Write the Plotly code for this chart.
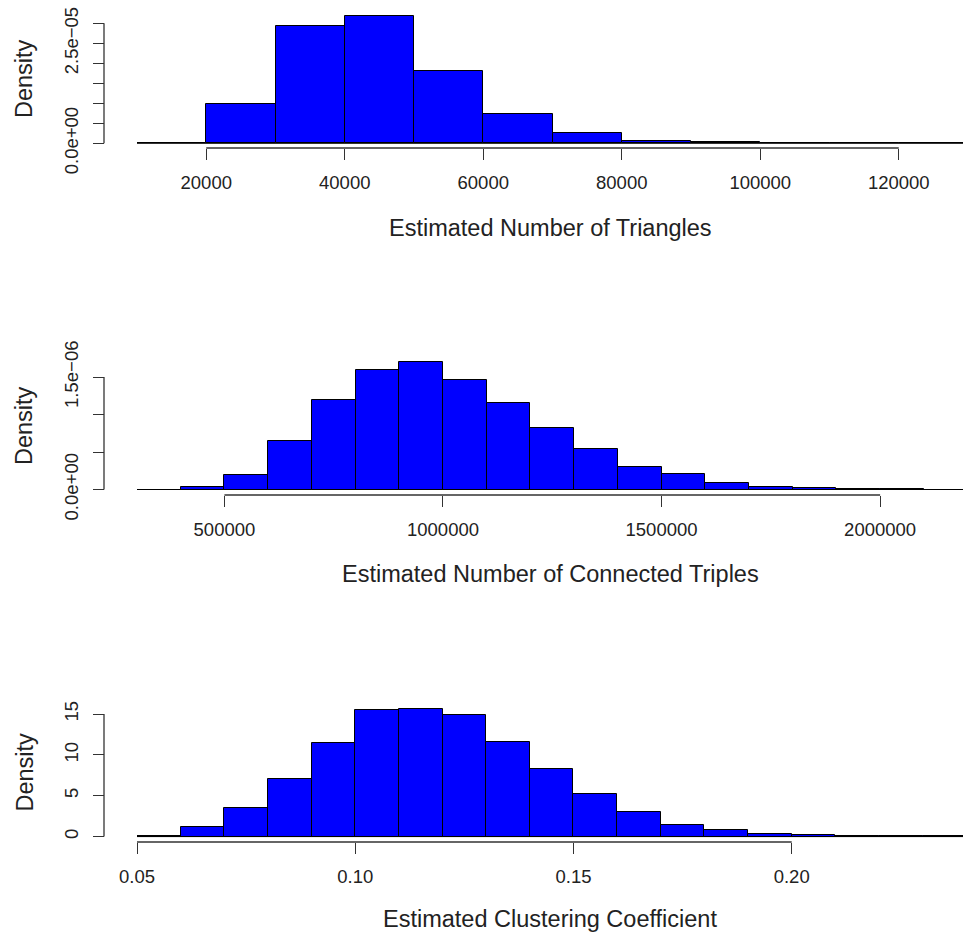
import plotly.graph_objects as go

W, H = 963, 933

# ---------------- data ----------------
tri_breaks = [10000, 20000, 30000, 40000, 50000, 60000, 70000, 80000,
              90000, 100000, 110000, 120000, 130000]
tri_density = [1.0e-7, 9.8e-6, 2.93e-5, 3.19e-5, 1.81e-5, 7.4e-6, 2.65e-6,
               6.0e-7, 3.0e-7, 1.5e-7, 1.0e-7, 8.0e-8]
tri_xticks = [20000, 40000, 60000, 80000, 100000, 120000]
tri_xticklabels = ["20000", "40000", "60000", "80000", "100000", "120000"]
tri_yticks = [0, 5e-6, 1e-5, 1.5e-5, 2e-5, 2.5e-5, 3e-5]
tri_yticklabels = ["0.0e+00", "", "", "", "", "2.5e\u221205", ""]

trp_breaks = [300000, 400000, 500000, 600000, 700000, 800000, 900000,
              1000000, 1100000, 1200000, 1300000, 1400000, 1500000,
              1600000, 1700000, 1800000, 1900000, 2000000, 2100000]
trp_density = [0.0, 2.7e-8, 1.93e-7, 6.5e-7, 1.193e-6, 1.593e-6, 1.696e-6,
               1.46e-6, 1.149e-6, 8.16e-7, 5.4e-7, 2.96e-7, 2.03e-7,
               8.3e-8, 3.7e-8, 1.6e-8, 7e-9, 3e-9]
trp_xticks = [500000, 1000000, 1500000, 2000000]
trp_xticklabels = ["500000", "1000000", "1500000", "2000000"]
trp_yticks = [0, 5e-7, 1e-6, 1.5e-6]
trp_yticklabels = ["0.0e+00", "", "", "1.5e\u221206"]

cc_breaks = [0.05, 0.06, 0.07, 0.08, 0.09, 0.10, 0.11, 0.12, 0.13, 0.14,
             0.15, 0.16, 0.17, 0.18, 0.19, 0.20, 0.21, 0.22, 0.23, 0.24, 0.25]
cc_density = [0.1, 1.18, 3.44, 7.05, 11.44, 15.45, 15.66, 14.92, 11.56, 8.28,
              5.17, 2.95, 1.39, 0.86, 0.28, 0.15, 0.08, 0.05, 0.03, 0.02]
cc_xticks = [0.05, 0.10, 0.15, 0.20]
cc_xticklabels = ["0.05", "0.10", "0.15", "0.20"]
cc_yticks = [0, 5, 10, 15]
cc_yticklabels = ["0", "5", "10", "15"]

x_titles = ["Estimated Number of Triangles",
            "Estimated Number of Connected Triples",
            "Estimated Clustering Coefficient"]
y_title = "Density"

# ---------------- layout geometry (pixels) ----------------
PLOT_LEFT = 137
YAXIS_X = 104
panels = [
    dict(top=10, bottom=148, xr=[10000, 129278], yr=[-1.175e-6, 3.3325e-5],
         breaks=tri_breaks, dens=tri_density, xt=tri_xticks, xtl=tri_xticklabels,
         yt=tri_yticks, ytl=tri_yticklabels, title_y=228),
    dict(top=357, bottom=495, xr=[300000, 2189598], yr=[-7.333e-8, 1.7667e-6],
         breaks=trp_breaks, dens=trp_density, xt=trp_xticks, xtl=trp_xticklabels,
         yt=trp_yticks, ytl=trp_yticklabels, title_y=574),
    dict(top=703, bottom=842, xr=[0.05, 0.23925], yr=[-0.664, 16.353],
         breaks=cc_breaks, dens=cc_density, xt=cc_xticks, xtl=cc_xticklabels,
         yt=cc_yticks, ytl=cc_yticklabels, title_y=919),
]

FONT = "Liberation Sans, Arial, Helvetica, sans-serif"
AX_COL = "#333333"
TICK_FS = 18.5
TITLE_FS = 23.5

fig = go.Figure()
shapes = []
annotations = []
layout_axes = {}

for i, p in enumerate(panels, start=1):
    xa = "x" if i == 1 else f"x{i}"
    ya = "y" if i == 1 else f"y{i}"
    br = p["breaks"]
    centers = [(a + b) / 2 for a, b in zip(br[:-1], br[1:])]
    widths = [b - a for a, b in zip(br[:-1], br[1:])]
    fig.add_trace(go.Bar(
        x=centers, y=p["dens"], width=widths,
        marker=dict(color="#0000FF", line=dict(color="black", width=1)),
        xaxis=xa, yaxis=ya, showlegend=False, hoverinfo="x+y",
    ))
    dom_y = [1 - p["bottom"] / H, 1 - p["top"] / H]
    xkey = "xaxis" if i == 1 else f"xaxis{i}"
    ykey = "yaxis" if i == 1 else f"yaxis{i}"
    layout_axes[xkey] = dict(
        domain=[PLOT_LEFT / W, 1], range=p["xr"], anchor=ya, automargin=False,
        showgrid=False, zeroline=False, showline=False,
        ticks="outside", ticklen=11, tickwidth=1.3, tickcolor=AX_COL,
        tickvals=p["xt"], ticktext=p["xtl"],
        tickfont=dict(family=FONT, size=TICK_FS, color="#222"),
        ticklabelstandoff=7,
    )
    layout_axes[ykey] = dict(
        domain=dom_y, range=p["yr"], anchor="free", position=YAXIS_X / W,
        automargin=False,
        showgrid=False, zeroline=False, showline=False,
        ticks="outside", ticklen=11, tickwidth=1.3, tickcolor=AX_COL,
        tickvals=p["yt"], ticktext=p["ytl"], tickangle=-90,
        tickfont=dict(family=FONT, size=TICK_FS, color="#222"),
        ticklabelstandoff=8,
    )
    shapes.append(dict(type="line", xref=xa, yref=f"{ya} domain",
                       x0=p["xt"][0], x1=p["xt"][-1], y0=0, y1=0,
                       line=dict(color=AX_COL, width=1.3)))
    shapes.append(dict(type="line", xref="paper", yref=ya,
                       x0=YAXIS_X / W, x1=YAXIS_X / W, y0=p["yt"][0], y1=p["yt"][-1],
                       line=dict(color=AX_COL, width=1.3)))
    shapes.append(dict(type="line", xref=f"{xa} domain", yref=ya,
                       x0=0, x1=1, y0=0, y1=0,
                       line=dict(color="black", width=1)))
    annotations.append(dict(text=x_titles[i - 1], xref="paper", yref="paper",
                            x=(PLOT_LEFT + W) / 2 / W, y=1 - p["title_y"] / H,
                            xanchor="center", yanchor="middle", showarrow=False,
                            font=dict(family=FONT, size=TITLE_FS, color="#222")))
    annotations.append(dict(text=y_title, xref="paper", yref="paper",
                            x=24 / W, y=1 - (p["top"] + p["bottom"]) / 2 / H,
                            xanchor="center", yanchor="middle", showarrow=False,
                            textangle=-90,
                            font=dict(family=FONT, size=TITLE_FS, color="#222")))

fig.update_layout(
    template="none",
    width=W, height=H, margin=dict(l=0, r=0, t=0, b=0, pad=0, autoexpand=False),
    paper_bgcolor="white", plot_bgcolor="white",
    bargap=0, shapes=shapes, annotations=annotations,
    font=dict(family=FONT),
    **layout_axes,
)

fig.write_html("out.html",
               config={"displayModeBar": False},
               post_script="document.body.style.margin='0';document.body.style.padding='0';")
